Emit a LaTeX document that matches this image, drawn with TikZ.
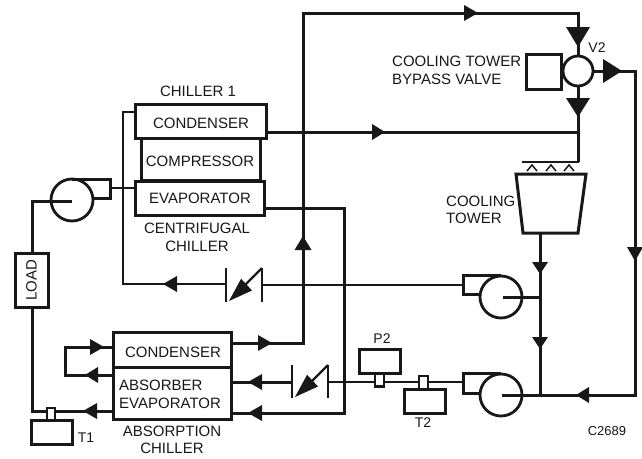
\documentclass[tikz,border=0pt]{standalone}
\usepackage{fontspec}
\setmainfont{Liberation Sans}
\definecolor{ink}{HTML}{1A171B}
\tikzset{
  x=1pt,y=-1pt,
  pipe/.style={draw=ink,line width=3pt,line join=miter},
  thin pipe/.style={draw=ink,line width=2.2pt,line join=miter},
  box/.style={draw=ink,line width=3pt,fill=white,inner sep=0pt,rectangle},
  lbl/.style={font=\fontsize{15}{15}\selectfont,text=ink,inner sep=0pt},
  small/.style={font=\fontsize{13}{13}\selectfont,text=ink,inner sep=0pt},
  tag/.style={font=\fontsize{14}{14}\selectfont,text=ink,inner sep=0pt},
}
% arrowhead: tip at #1, direction #2 (angle counter-clockwise on the page), length #3, half width #4
\newcommand{\ahead}[4]{\fill[ink,shift={(#1)},rotate=#2] (0,0) -- (-#3,-#4) -- (-#3,#4) -- cycle;}
\begin{document}
\begin{tikzpicture}
\useasboundingbox (0,0) rectangle (642,458);
\fill[white] (0,0) rectangle (642,458);
% chiller 1
\node[box,minimum width=119pt,minimum height=42pt] (compr) at (200.5,159.5) {};
\node[box,minimum width=131pt,minimum height=34pt] (cond1) at (200.5,121) {};
\node[box,minimum width=129pt,minimum height=34pt] (evap1) at (200,198.5) {};
\node[lbl] at (201,123) {CONDENSER};
\node[lbl] at (200,161) {COMPRESSOR};
\node[lbl] at (200,198) {EVAPORATOR};
\node[lbl] at (198,91) {CHILLER 1};
\node[lbl] at (197,228) {CENTRIFUGAL};
\node[lbl] at (197,246) {CHILLER};
% absorption chiller
\node[box,minimum width=118pt,minimum height=35pt] (cond2) at (172,349.5) {};
\node[box,minimum width=118pt,minimum height=52pt] (abs) at (172,393) {};
\node[lbl] at (173,352) {CONDENSER};
\node[lbl,anchor=west] at (119,385) {ABSORBER};
\node[lbl,anchor=west] at (119,403) {EVAPORATOR};
\node[lbl] at (172,431) {ABSORPTION};
\node[lbl] at (172,448) {CHILLER};
% load
\node[box,minimum width=33pt,minimum height=54pt] (load) at (31.5,280) {};
\node[lbl,rotate=90] at (31.5,280) {LOAD};
% thin chilled-water pipes
\draw[thin pipe] (cond1.west |- 0,112) -- (123,112) -- (123,284) -- (226,284);
\draw[thin pipe] (110,188) -- (evap1.west |- 0,188);
% check valve 1
\coordinate (cvA) at (226,268); \coordinate (cvB) at (226,302);
\coordinate (cvC) at (262,268); \coordinate (cvD) at (262,302);
\draw[thin pipe] (cvA) -- (cvB);
\draw[thin pipe] (cvC) -- (cvD);
\draw[thin pipe] (cvC) -- (240,290);
\ahead{229,301}{223}{24}{8}
\draw[thin pipe] (262,285) -- (463,285);
% check valve 2
\coordinate (cwA) at (292,365); \coordinate (cwB) at (292,398);
\coordinate (cwC) at (328,365); \coordinate (cwD) at (328,398);
\draw[thin pipe] (cwA) -- (cwB);
\draw[thin pipe] (cwC) -- (cwD);
\draw[thin pipe] (cwC) -- (306,387);
\ahead{295,397}{223}{24}{8}
\draw[thin pipe] (328,382) -- (463,382);
% thick pipes
\draw[pipe] (cond2.east |- 0,343) -- (303,343) -- (303,13) -- (578,13) -- (578,56);
\draw[pipe] (cond1.east |- 0,132) -- (578,132);
\draw[pipe] (578,86) -- (578,162);
\draw[pipe] (evap1.east |- 0,208) -- (344,208) -- (344,413) -- (abs.east |- 0,413);
\draw[pipe] (abs.east |- 0,382) -- (292,382);
\draw[pipe] (593,71) -- (635,71) -- (635,395) -- (502,395);
\draw[pipe] (540,233) -- (540,395);
\draw[pipe] (540,297) -- (503,297);
\draw[pipe] (72,201) -- (32,201) -- (load.north -| 32,0);
\draw[pipe] (load.south -| 32,0) -- (32,411) -- (abs.west |- 0,411);
\draw[pipe] (cond2.west |- 0,347) -- (65,347) -- (65,375) -- (abs.west |- 0,375);
\draw[thin pipe] (579,162) -- (522,162);
% pump volutes
\draw[pipe] (72,179) -- (110,179) -- (110,198) -- (94,198);
\draw[pipe] (501,275) -- (463,275) -- (463,294) -- (480,294);
\draw[pipe] (501,373) -- (463,373) -- (463,393) -- (480,393);
% pump circles
\draw[ink,line width=2.8pt] (72,200) circle (21);
\draw[ink,line width=2.8pt] (501,297) circle (21);
\draw[ink,line width=2.8pt] (501,395) circle (21);
% valve V2
\node[box,minimum width=35pt,minimum height=35pt] (act) at (543.5,71.5) {};
\node[circle,draw=ink,line width=2.8pt,minimum size=30pt,inner sep=0pt] (v2) at (578,71) {};
% tower
\draw[ink,line width=3pt,fill=white] (516,174) -- (586,174) -- (578,233) -- (523,233) -- cycle;
\foreach \xx in {532,551,569}
  \draw[ink,line width=1.5pt] (\xx-5,171) -- (\xx,165) -- (\xx+5,171);
% sensors
\node[box,minimum width=41pt,minimum height=24pt] (p2) at (379.5,361) {};
\node[box,line width=2.4pt,minimum width=9pt,minimum height=13pt] (p2s) at (379.5,380) {};
\node[box,minimum width=41pt,minimum height=24pt] (t2) at (424.5,401) {};
\node[box,line width=2.4pt,minimum width=9pt,minimum height=13pt] (t2s) at (423.5,382.5) {};
\node[box,minimum width=41pt,minimum height=24pt] (t1) at (51.5,432) {};
\node[box,line width=2.4pt,minimum width=8pt,minimum height=12pt] (t1s) at (51,414) {};
% arrowheads
\ahead{478,13}{0}{14}{8}
\ahead{578,47}{-90}{20}{12}
\ahead{578,117}{-90}{19}{12}
\ahead{622,71}{0}{19}{12}
\ahead{385,132}{0}{13}{8}
\ahead{303,236}{90}{14}{8.5}
\ahead{272,343}{0}{14}{8}
\ahead{248,382}{180}{14}{8}
\ahead{248,413}{180}{14}{8}
\ahead{104,347}{0}{14}{8}
\ahead{85,375}{180}{13}{8}
\ahead{83,411}{180}{14}{8}
\ahead{163,284}{180}{14}{8}
\ahead{540,274}{-90}{12}{8}
\ahead{540,349}{-90}{12}{8}
\ahead{635,261}{-90}{14}{8}
\ahead{576,395}{180}{13}{8}
% labels
\node[lbl,anchor=west] at (392,61) {COOLING TOWER};
\node[lbl,anchor=west] at (392,79) {BYPASS VALVE};
\node[lbl,anchor=west] at (446,201) {COOLING};
\node[lbl,anchor=west] at (446,218) {TOWER};
\node[tag] at (597,48) {V2};
\node[tag] at (382,339) {P2};
\node[tag] at (423,423) {T2};
\node[tag] at (86,438) {T1};
\node[small] at (607,431) {C2689};
\end{tikzpicture}
\end{document}
